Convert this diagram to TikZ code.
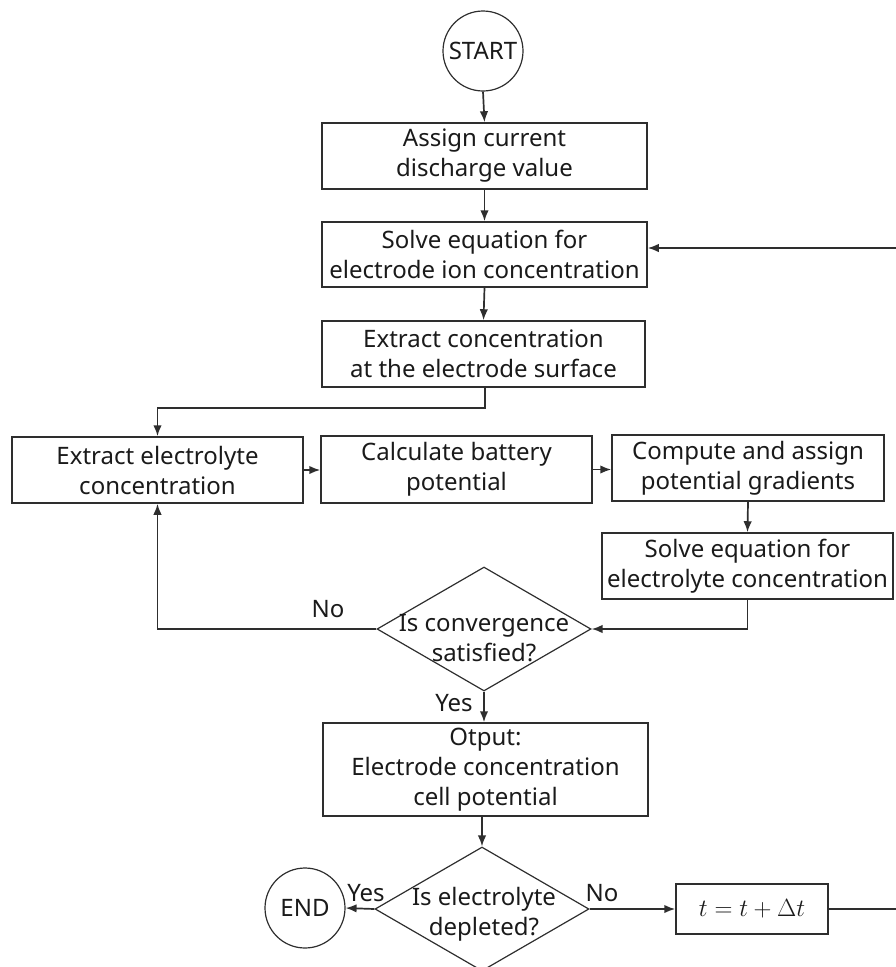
\documentclass[tikz,border=0pt]{standalone}
\usepackage{fontspec}
\setmainfont{Noto Sans}
\usetikzlibrary{arrows.meta,shapes.geometric}
\definecolor{ln}{HTML}{2E2E2E}
\definecolor{tx}{HTML}{1A1A1A}
\tikzset{
  base/.style={font=\fontsize{24}{30}\selectfont, text=tx},
  proc/.style={base, draw=ln, line width=1.5pt, rectangle, align=center, inner sep=0pt},
  term/.style={base, draw=ln, line width=1.2pt, circle, minimum size=80pt, inner sep=0pt},
  dia/.style={draw=ln, line width=1.2pt, diamond, minimum width=214pt, minimum height=124pt, inner sep=0pt},
  diatext/.style={base, align=center, inner sep=0pt},
  lbl/.style={base, inner sep=0pt},
  conn/.style={draw=ln, line width=1.7pt},
  arr/.style={conn, -{Latex[length=11pt,width=8.5pt]}},
}
\begin{document}
\begin{tikzpicture}[x=1pt,y=-1pt]
\useasboundingbox (0,0) rectangle (896,967);
% nodes
\node[term] (start) at (483,51) {START};
\node[proc, minimum width=325pt, minimum height=66pt] (b1) at (484.5,156) {Assign current\\discharge value};
\node[proc, minimum width=325pt, minimum height=65pt] (b2) at (484.5,254.5) {Solve equation for\\electrode ion concentration};
\node[proc, minimum width=323pt, minimum height=66pt] (b3) at (483.5,354) {Extract concentration\\at the electrode surface};
\node[proc, minimum width=291pt, minimum height=66pt] (b4) at (157.5,470) {Extract electrolyte\\concentration};
\node[proc, minimum width=271pt, minimum height=67pt] (b5) at (456.5,469.5) {Calculate battery\\potential};
\node[proc, minimum width=272pt, minimum height=66pt] (b6) at (748,468) {Compute and assign\\potential gradients};
\node[proc, minimum width=291pt, minimum height=66pt] (b7) at (747.5,566) {Solve equation for\\electrolyte concentration};
\node[dia] (d1) at (484,629) {};
\node[diatext] (d1t) at (484,638) {Is convergence\\satisfied?};
\node[proc, minimum width=325pt, minimum height=93pt] (b8) at (485.5,769.5) {Otput:\\ Electrode concentration\\cell potential};
\node[dia] (d2) at (482,909) {};
\node[diatext] (d2t) at (484,914) {Is electrolyte\\depleted?};
\node[term] (end) at (305,908) {END};
\node[proc, minimum width=152pt, minimum height=50pt] (tb) at (752,909) {$t = t + \Delta t$};
% labels
\node[lbl] (lno1) at (328,609) {No};
\node[lbl] (lyes1) at (454,703) {Yes};
\node[lbl] (lyes2) at (366,893) {Yes};
\node[lbl] (lno2) at (602,893) {No};
% helper coordinates
\coordinate (e1) at (485,408);
\coordinate (e2) at (157.5,408);
\coordinate (r1) at (902,909);
\coordinate (r2) at (902,248);
% connectors
\draw[arr] (start.south) -- (b1.north);
\draw[arr] (b1.south) -- (b2.north);
\draw[arr] (b2.south) -- (b3.north);
\draw[arr] (b3.south -| e1) -- (e1) -- (e2) -- (b4.north);
\draw[arr] (b4.east) -- (b4.east -| b5.west);
\draw[arr] (b5.east) -- (b5.east -| b6.west);
\draw[arr] (b6.south) -- (b7.north);
\draw[arr] (b7.south) -- (b7.south |- d1.east) -- (d1.east);
\draw[arr] (d1.west) -- (d1.west -| b4.south) -- (b4.south);
\draw[arr] (d1.south) -- (d1.south |- b8.north);
\draw[arr] (b8.south -| d2.north) -- (d2.north);
\draw[arr] (d2.west) -- (end.east);
\draw[arr] (d2.east) -- (tb.west);
\draw[arr] (tb.east) -- (r1) -- (r2) -- (r2 -| b2.east);
\end{tikzpicture}
\end{document}
